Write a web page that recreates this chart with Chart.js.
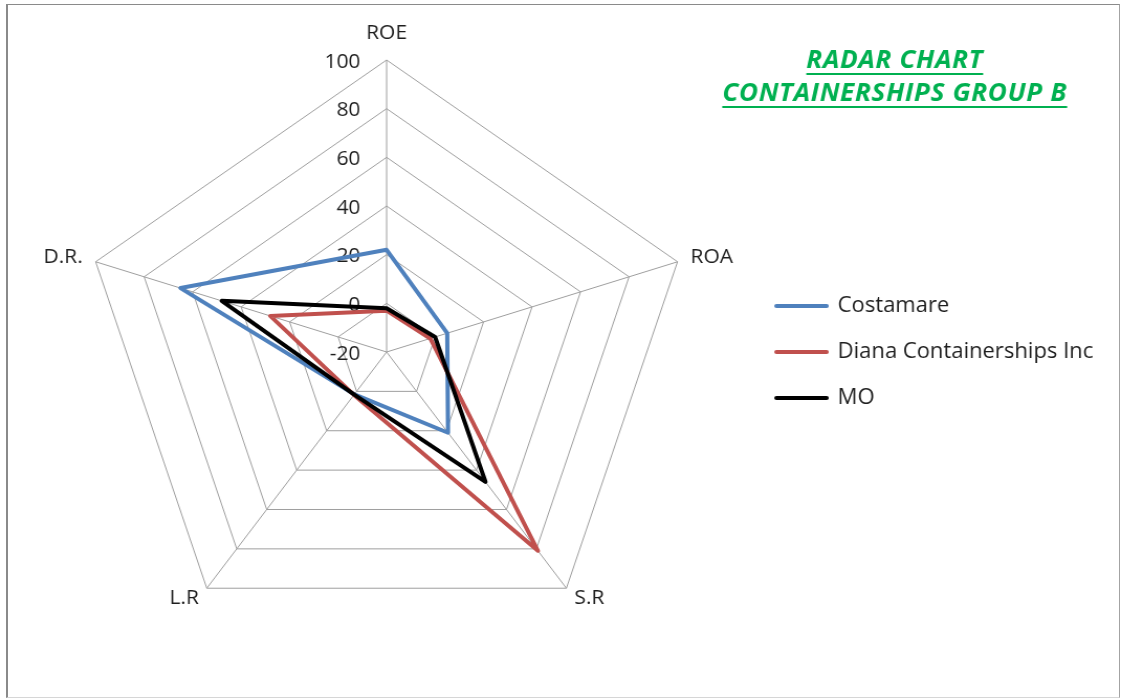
<!DOCTYPE html>
<html>
<head>
<meta charset="utf-8">
<title>Radar Chart - Containerships Group B</title>
<script src="https://cdn.jsdelivr.net/npm/chart.js@4.4.1/dist/chart.umd.min.js"></script>
<style>
  html, body { margin: 0; padding: 0; background: #ffffff; }
  #frame {
    position: absolute; left: 6px; top: 4px; width: 1111px; height: 692px;
    border-left: 2px solid #8a8a8a; border-top: 1px solid #8a8a8a;
    border-right: 1px solid #a3a3a3; border-bottom: 1px solid #d6d6d6;
  }
  #wrap {
    position: absolute; left: 0; top: 0; width: 1070px; height: 699px;
    transform: scaleX(1.04766); transform-origin: 0 0;
  }
</style>
</head>
<body>
<div id="frame"></div>
<div id="wrap"><canvas id="c" width="1070" height="699"></canvas></div>
<script>
// Financial ratios per company
const categories = ['ROE', 'ROA', 'S.R', 'L.R', 'D.R.'];
const costamare = [22, 5, 21, 1.5, 65];
const diana = [-3, -2, 81, 1.8, 28];
const mo = [-2, 0, 46, 1.6, 48];
const tickValues = [-20, 0, 20, 40, 60, 80, 100];
const titleLines = ['RADAR CHART', 'CONTAINERSHIPS GROUP B'];

const FONT = '"Open Sans", "Liberation Sans", sans-serif';
const TEXT = '#1e1e1e';

// Value labels along the ROE spoke, placed left of the axis and under the series lines
const radarTickLabels = {
  id: 'radarTickLabels',
  beforeDatasetsDraw(chart) {
    const s = chart.scales.r;
    const ctx = chart.ctx;
    ctx.save();
    ctx.font = `20px ${FONT}`;
    ctx.fillStyle = TEXT;
    ctx.textAlign = 'right';
    ctx.textBaseline = 'middle';
    s.ticks.forEach(t => {
      const d = s.getDistanceFromCenterForValue(t.value);
      ctx.fillText(t.label, s.xCenter - 25, s.yCenter - d + 2);
    });
    ctx.restore();
  }
};

// Axis names just outside the outer ring
const axisNames = {
  id: 'axisNames',
  afterDatasetsDraw(chart) {
    const s = chart.scales.r;
    const ctx = chart.ctx;
    ctx.save();
    ctx.font = `20px ${FONT}`;
    ctx.fillStyle = TEXT;
    ctx.textBaseline = 'middle';
    chart.data.labels.forEach((label, i) => {
      const a = s.getIndexAngle(i);
      const sin = Math.sin(a), cos = Math.cos(a);
      const pad = cos > 0.95 ? 27 : 13;
      const p = s.getPointPosition(i, s.drawingArea + pad);
      ctx.textAlign = Math.abs(sin) < 0.05 ? 'center' : (sin > 0 ? 'left' : 'right');
      ctx.fillText(label, p.x, p.y);
    });
    ctx.restore();
  }
};

// Underlined green heading in the upper right corner
const cornerTitle = {
  id: 'cornerTitle',
  afterDraw(chart) {
    const ctx = chart.ctx;
    ctx.save();
    ctx.font = `italic bold 25px ${FONT}`;
    ctx.letterSpacing = '0.6px';
    ctx.fillStyle = '#00b050';
    ctx.strokeStyle = '#00b050';
    ctx.lineWidth = 2;
    ctx.textAlign = 'center';
    ctx.textBaseline = 'middle';
    const cx = 854, y0 = 61, gap = 33;
    titleLines.forEach((line, k) => {
      const y = y0 + k * gap;
      ctx.fillText(line, cx, y);
      const w = ctx.measureText(line).width;
      ctx.beginPath();
      ctx.moveTo(cx - w / 2, y + 13);
      ctx.lineTo(cx + w / 2, y + 13);
      ctx.stroke();
    });
    ctx.restore();
  }
};

const series = [
  { label: 'Costamare', data: costamare, color: '#4f81bd', order: 2 },
  { label: 'Diana Containerships Inc', data: diana, color: '#c0504d', order: 1 },
  { label: 'MO', data: mo, color: '#000000', order: 0 }
];

new Chart(document.getElementById('c'), {
  type: 'radar',
  data: {
    labels: categories,
    datasets: series.map(s => ({
      label: s.label,
      data: s.data,
      order: s.order,
      borderColor: s.color,
      backgroundColor: s.color,
      borderWidth: 4,
      pointBorderWidth: 4,
      fill: false,
      pointRadius: 0,
      pointHoverRadius: 0,
      borderJoinStyle: 'round',
      borderCapStyle: 'round',
      tension: 0
    }))
  },
  options: {
    responsive: false,
    animation: false,
    events: [],
    layout: { padding: { left: 22, right: 16.5, top: 60, bottom: 55 } },
    scales: {
      r: {
        min: tickValues[0],
        max: tickValues[tickValues.length - 1],
        beginAtZero: false,
        ticks: { stepSize: tickValues[1] - tickValues[0], display: false },
        grid: { color: '#9e9e9e', lineWidth: 1 },
        angleLines: { color: '#9e9e9e', lineWidth: 1 },
        pointLabels: { display: false }
      }
    },
    plugins: {
      legend: {
        position: 'right',
        labels: {
          usePointStyle: true,
          pointStyle: 'line',
          pointStyleWidth: 48,
          padding: 25,
          color: TEXT,
          font: { family: FONT, size: 21 },
          generateLabels(chart) {
            const items = Chart.defaults.plugins.legend.labels.generateLabels(chart);
            items.forEach(it => { it.lineCap = 'round'; it.lineWidth = 4; it.pointStyle = 'line'; });
            return items.sort((a, b) => a.datasetIndex - b.datasetIndex);
          }
        }
      },
      tooltip: { enabled: false }
    }
  },
  plugins: [radarTickLabels, axisNames, cornerTitle]
});
</script>
</body>
</html>
